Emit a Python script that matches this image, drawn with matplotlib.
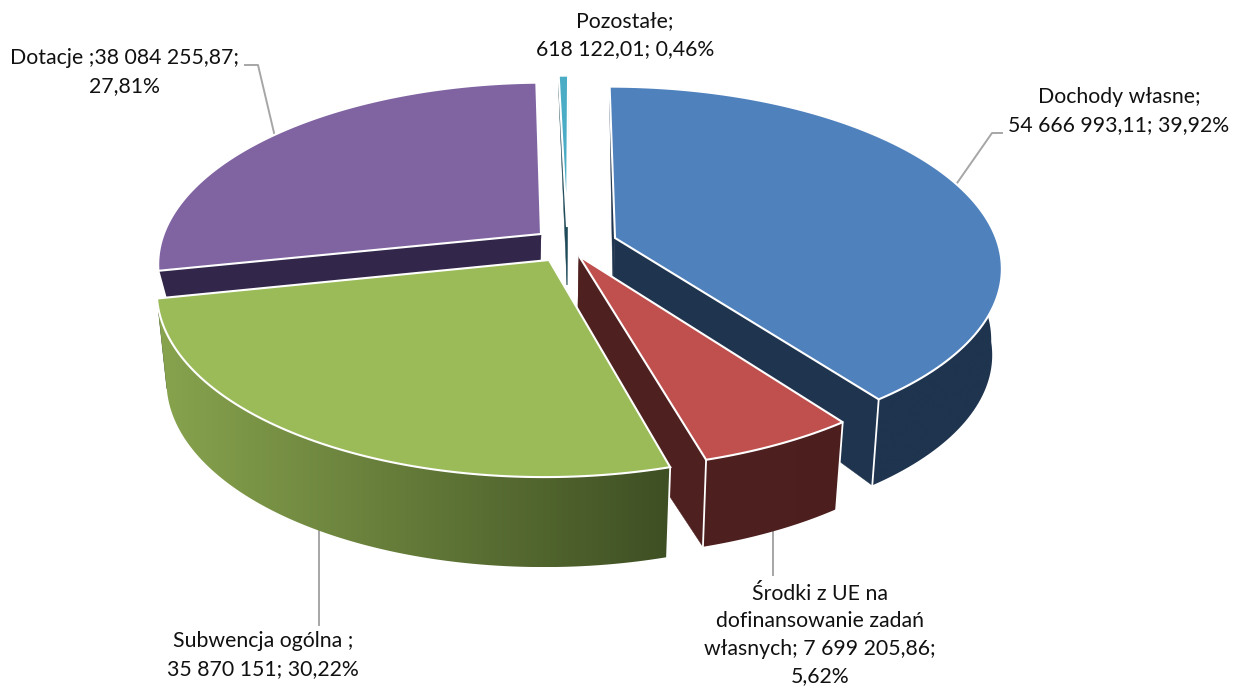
"""
exploded 3d pie, drawn by hand since matplotlib has no perspective pie
"""

import numpy as np
import matplotlib
matplotlib.use('Agg')
import matplotlib.pyplot as plt
from matplotlib.patches import Polygon
from matplotlib.colors import LinearSegmentedColormap

# data from the labels, in slice order (clockwise from the top)
names = ['Dochody własne', 'Środki z UE', 'Subwencja ogólna', 'Dotacje', 'Pozostałe']
values = [54666993.11, 7699205.86, 35870151, 38084255.87, 618122.01]
labels = ['Dochody własne;\n54 666 993,11; 39,92%',
          'Środki z UE na\ndofinansowanie zadań\nwłasnych; 7 699 205,86;\n5,62%',
          'Subwencja ogólna ;\n35 870 151; 30,22%',
          'Dotacje ;38 084 255,87;\n27,81%',
          'Pozostałe;\n618 122,01; 0,46%']

top_colors = ['#4F81BD', '#C0504D', '#9BBB59', '#8064A2', '#4BACC6']
wall_left = ['#1F344E', '#4F2020', '#88A44E', '#32274A', '#1F4A58']
wall_right = ['#1F344E', '#4C1F1E', '#3E4F23', '#32274A', '#1F4A58']

# picture layout, pixels
apex = [(615, 238), (579, 256), (549, 260), (541, 234), (567, 227)]
apex_gap = [58, 100, 60, 60, 58]
apex_dx = [-2, -2, -2, -2, 0]
rim_gap = [86, 87, 90, 35, 93]
scale_x = [0.995, 1.015, 1.01, 0.985, 1.0]
scale_y = [1.0, 1.03, 1.047, 1.0, 1.0]
draw_order = [4, 3, 0, 1, 2]
CX = 575
RX, RY, K = 383, 175, 0.156
BOTTOM_X = 0.975

label_pos = [(1119, 111), (820, 635), (263, 655), (124, 72), (625, 35)]
leaders = [[(955, 186), (992, 133), (1002, 133)],
           [(773, 531), (773, 575)],
           [(319, 529), (319, 625)],
           [(275, 137), (258, 65), (245, 65)]]


def disc(i, theta):
    # theta in degrees clockwise from the top, offsets from the slice apex
    u = np.sin(np.radians(theta))
    v = -np.cos(np.radians(theta))
    d = 1 - K * v
    shift = (apex[i][0] - CX) * (1 / d - 1)
    return RX * scale_x[i] * u / d, RY * scale_y[i] * v / d, shift, v


def outline(i, theta):
    x, y, shift, v = disc(i, theta)
    ax0, ay0 = apex[i]
    gap = rim_gap[i] * np.minimum(1, 0.18 + 0.82 * (v + 1) / 0.6)
    # bottom rim only pulls in on the side nearer the viewer
    bx = BOTTOM_X + (1 - BOTTOM_X) * np.clip((0.1 - v) / 0.3, 0, 1)
    return ax0 + shift + x, ay0 + y, ax0 + shift + bx * x, ay0 + y + gap


plt.rcParams['font.family'] = ['Lato', 'DejaVu Sans']
fig = plt.figure(figsize=(12.37, 6.91), dpi=100)
ax = fig.add_axes([0, 0, 1, 1])

shares = np.array(values) / np.sum(values) * 360
ends = np.cumsum(shares)
starts = ends - shares

for line in leaders:
    xs, ys = zip(*line)
    ax.plot(xs, ys, color='#A6A6A6', lw=1.4, zorder=1)

z = 2
for i in draw_order:
    ax0, ay0 = apex[i]
    t = np.linspace(starts[i], ends[i], 121)
    xt, yt, xb, yb = outline(i, t)
    bx0, by0 = ax0 + apex_dx[i], ay0 + apex_gap[i]

    # radial walls
    for k in (0, -1):
        pts = [(ax0, ay0), (xt[k], yt[k]), (xb[k], yb[k]), (bx0, by0)]
        col = wall_right[i] if k == 0 or i == 2 else wall_left[i]
        ax.add_patch(Polygon(pts, closed=True, fc=col, ec=col, lw=0.3, zorder=z))
        z += 1

    # outer wall, shading runs along x
    pts = np.vstack([np.column_stack([xt, yt]), np.column_stack([xb, yb])[::-1]])
    wall = Polygon(pts, closed=True, fc='none', ec='none', zorder=z)
    ax.add_patch(wall)
    cmap = LinearSegmentedColormap.from_list('w', [wall_left[i], wall_right[i]])
    x0, x1 = pts[:, 0].min(), pts[:, 0].max()
    y0, y1 = pts[:, 1].min(), pts[:, 1].max()
    ax.imshow(np.linspace(0, 1, 256)[None, :], extent=(x0, x1, y1, y0), cmap=cmap,
              aspect='auto', clip_path=wall, zorder=z, interpolation='bilinear')
    z += 1

    # white edges where the wall turns towards us
    for k in (0, -1):
        if i == 2 and k == -1:
            continue
        if yt[k] > ay0:
            ax.plot([xt[k], xb[k]], [yt[k], yb[k]], color='white', lw=1.3, zorder=z)
    z += 1

    # top face
    top = [(ax0, ay0)] + list(zip(xt, yt))
    ax.add_patch(Polygon(top, closed=True, fc=top_colors[i], ec='white', lw=1.5, zorder=z,
                         joinstyle='miter'))
    z += 1

for i, txt in enumerate(labels):
    ax.text(label_pos[i][0], label_pos[i][1], txt, ha='center', va='center',
            fontsize=15.3, color='#111111', linespacing=1.46, zorder=z)

ax.set_xlim(0, 1237)
ax.set_ylim(691, 0)
ax.axis('off')

fig.savefig('out.png', dpi=100)
